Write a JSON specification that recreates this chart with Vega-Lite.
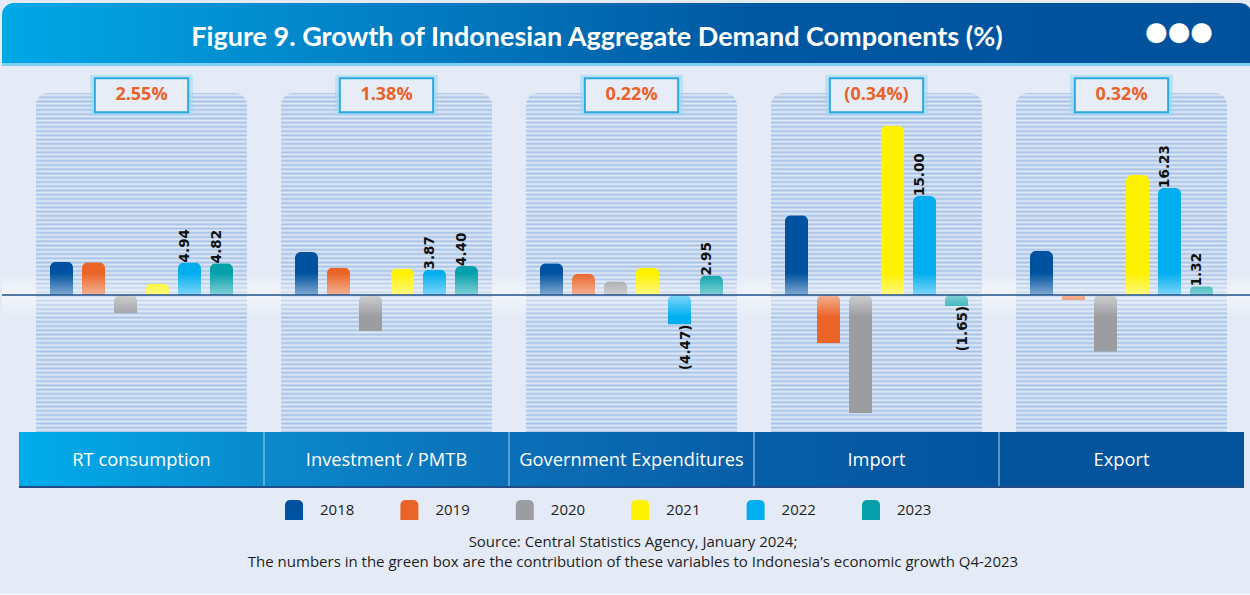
{
  "$schema": "https://vega.github.io/schema/vega-lite/v6.json",
  "background": "#e5ebf6",
  "padding": {"top": 3, "left": 0, "right": 0, "bottom": 24},
  "autosize": {"type": "pad"},
  "bounds": "flush",
  "spacing": 0,
  "config": {"view": {"stroke": null}, "font": "Open Sans"},
  "title": {
    "text": "Source: Central Statistics Agency, January 2024;",
    "subtitle": "The numbers in the green box are the contribution of these variables to Indonesia’s economic growth Q4-2023",
    "orient": "bottom", "anchor": "middle", "offset": 3, "dx": 6,
    "font": "Open Sans", "fontSize": 15, "fontWeight": "normal", "color": "#1e1e1e",
    "subtitleFont": "Open Sans", "subtitleFontSize": 15, "subtitleColor": "#1e1e1e", "subtitlePadding": 5
  },
  "resolve": {"scale": {"x": "independent", "y": "independent"}},
  "datasets": {
    "bars": [
      {"category": "RT consumption", "year": "2018", "value": 5.05, "label": ""},
      {"category": "RT consumption", "year": "2019", "value": 4.98, "label": ""},
      {"category": "RT consumption", "year": "2020", "value": -2.75, "label": ""},
      {"category": "RT consumption", "year": "2021", "value": 1.75, "label": ""},
      {"category": "RT consumption", "year": "2022", "value": 4.94, "label": "4.94"},
      {"category": "RT consumption", "year": "2023", "value": 4.82, "label": "4.82"},
      {"category": "Investment / PMTB", "year": "2018", "value": 6.5, "label": ""},
      {"category": "Investment / PMTB", "year": "2019", "value": 4.15, "label": ""},
      {"category": "Investment / PMTB", "year": "2020", "value": -5.45, "label": ""},
      {"category": "Investment / PMTB", "year": "2021", "value": 4.0, "label": ""},
      {"category": "Investment / PMTB", "year": "2022", "value": 3.87, "label": "3.87"},
      {"category": "Investment / PMTB", "year": "2023", "value": 4.40, "label": "4.40"},
      {"category": "Government Expenditures", "year": "2018", "value": 4.8, "label": ""},
      {"category": "Government Expenditures", "year": "2019", "value": 3.2, "label": ""},
      {"category": "Government Expenditures", "year": "2020", "value": 2.1, "label": ""},
      {"category": "Government Expenditures", "year": "2021", "value": 4.15, "label": ""},
      {"category": "Government Expenditures", "year": "2022", "value": -4.47, "label": "(4.47)"},
      {"category": "Government Expenditures", "year": "2023", "value": 2.95, "label": "2.95"},
      {"category": "Import", "year": "2018", "value": 12.1, "label": ""},
      {"category": "Import", "year": "2019", "value": -7.3, "label": ""},
      {"category": "Import", "year": "2020", "value": -17.9, "label": ""},
      {"category": "Import", "year": "2021", "value": 25.7, "label": ""},
      {"category": "Import", "year": "2022", "value": 15.00, "label": "15.00"},
      {"category": "Import", "year": "2023", "value": -1.65, "label": "(1.65)"},
      {"category": "Export", "year": "2018", "value": 6.65, "label": ""},
      {"category": "Export", "year": "2019", "value": -0.75, "label": ""},
      {"category": "Export", "year": "2020", "value": -8.6, "label": ""},
      {"category": "Export", "year": "2021", "value": 18.2, "label": ""},
      {"category": "Export", "year": "2022", "value": 16.23, "label": "16.23"},
      {"category": "Export", "year": "2023", "value": 1.32, "label": "1.32"}
    ],
    "panels": [
      {"category": "RT consumption", "contribution": "2.55%"},
      {"category": "Investment / PMTB", "contribution": "1.38%"},
      {"category": "Government Expenditures", "contribution": "0.22%"},
      {"category": "Import", "contribution": "(0.34%)"},
      {"category": "Export", "contribution": "0.32%"}
    ]
  },
  "vconcat": [
    {
      "width": 1250, "height": 60,
      "data": {"values": [{"title": "Figure 9. Growth of Indonesian Aggregate Demand Components (%)", "dots": "●●●"}]},
      "layer": [
        {
          "mark": {"type": "rect", "cornerRadiusTopLeft": 12, "cornerRadiusTopRight": 12,
            "fill": {"gradient": "linear", "x1": 0, "y1": 0, "x2": 1, "y2": 0,
              "stops": [{"offset": 0, "color": "#00a8e6"}, {"offset": 0.3, "color": "#0380c5"}, {"offset": 0.6, "color": "#0058a2"}, {"offset": 1, "color": "#00519c"}]}},
          "encoding": {}
        },
        {
          "mark": {"type": "text", "font": "Lato", "fontSize": 27, "fontWeight": "bold", "color": "white", "dx": -30, "dy": 5},
          "encoding": {"text": {"field": "title"}}
        },
        {
          "mark": {"type": "text", "font": "DejaVu Sans", "fontSize": 26, "color": "white", "dx": 552, "dy": -1},
          "encoding": {"text": {"field": "dots"}}
        }
      ]
    },
    {
      "width": 1250, "height": 369,
      "layer": [
        {
          "data": {"name": "panels"},
          "mark": {"type": "bar", "width": {"band": 0.861}, "cornerRadiusTopLeft": 12, "cornerRadiusTopRight": 12,
            "fill": {"gradient": "linear", "x1": 0, "y1": 0, "x2": 0, "y2": 1, "stops": [
              {"offset": 0, "color": "#a6c2e7"}, {"offset": 0.00625, "color": "#e2eaf6"}, {"offset": 0.0125, "color": "#a6c2e7"}, {"offset": 0.01875, "color": "#e2eaf6"}, {"offset": 0.025, "color": "#a6c2e7"}, {"offset": 0.03125, "color": "#e2eaf6"}, {"offset": 0.0375, "color": "#a6c2e7"}, {"offset": 0.04375, "color": "#e2eaf6"},
              {"offset": 0.05, "color": "#a6c2e7"}, {"offset": 0.05625, "color": "#e2eaf6"}, {"offset": 0.0625, "color": "#a6c2e7"}, {"offset": 0.06875, "color": "#e2eaf6"}, {"offset": 0.075, "color": "#a6c2e7"}, {"offset": 0.08125, "color": "#e2eaf6"}, {"offset": 0.0875, "color": "#a6c2e7"}, {"offset": 0.09375, "color": "#e2eaf6"},
              {"offset": 0.1, "color": "#a6c2e7"}, {"offset": 0.10625, "color": "#e2eaf6"}, {"offset": 0.1125, "color": "#a6c2e7"}, {"offset": 0.11875, "color": "#e2eaf6"}, {"offset": 0.125, "color": "#a6c2e7"}, {"offset": 0.13125, "color": "#e2eaf6"}, {"offset": 0.1375, "color": "#a6c2e7"}, {"offset": 0.14375, "color": "#e2eaf6"},
              {"offset": 0.15, "color": "#a6c2e7"}, {"offset": 0.15625, "color": "#e2eaf6"}, {"offset": 0.1625, "color": "#a6c2e7"}, {"offset": 0.16875, "color": "#e2eaf6"}, {"offset": 0.175, "color": "#a6c2e7"}, {"offset": 0.18125, "color": "#e2eaf6"}, {"offset": 0.1875, "color": "#a6c2e7"}, {"offset": 0.19375, "color": "#e2eaf6"},
              {"offset": 0.2, "color": "#a6c2e7"}, {"offset": 0.20625, "color": "#e2eaf6"}, {"offset": 0.2125, "color": "#a6c2e7"}, {"offset": 0.21875, "color": "#e2eaf6"}, {"offset": 0.225, "color": "#a6c2e7"}, {"offset": 0.23125, "color": "#e2eaf6"}, {"offset": 0.2375, "color": "#a6c2e7"}, {"offset": 0.24375, "color": "#e2eaf6"},
              {"offset": 0.25, "color": "#a6c2e7"}, {"offset": 0.25625, "color": "#e2eaf6"}, {"offset": 0.2625, "color": "#a6c2e7"}, {"offset": 0.26875, "color": "#e2eaf6"}, {"offset": 0.275, "color": "#a6c2e7"}, {"offset": 0.28125, "color": "#e2eaf6"}, {"offset": 0.2875, "color": "#a6c2e7"}, {"offset": 0.29375, "color": "#e2eaf6"},
              {"offset": 0.3, "color": "#a6c2e7"}, {"offset": 0.30625, "color": "#e2eaf6"}, {"offset": 0.3125, "color": "#a6c2e7"}, {"offset": 0.31875, "color": "#e2eaf6"}, {"offset": 0.325, "color": "#a6c2e7"}, {"offset": 0.33125, "color": "#e2eaf6"}, {"offset": 0.3375, "color": "#a6c2e7"}, {"offset": 0.34375, "color": "#e2eaf6"},
              {"offset": 0.35, "color": "#a6c2e7"}, {"offset": 0.35625, "color": "#e2eaf6"}, {"offset": 0.3625, "color": "#a6c2e7"}, {"offset": 0.36875, "color": "#e2eaf6"}, {"offset": 0.375, "color": "#a6c2e7"}, {"offset": 0.38125, "color": "#e2eaf6"}, {"offset": 0.3875, "color": "#a6c2e7"}, {"offset": 0.39375, "color": "#e2eaf6"},
              {"offset": 0.4, "color": "#a6c2e7"}, {"offset": 0.40625, "color": "#e2eaf6"}, {"offset": 0.4125, "color": "#a6c2e7"}, {"offset": 0.41875, "color": "#e2eaf6"}, {"offset": 0.425, "color": "#a6c2e7"}, {"offset": 0.43125, "color": "#e2eaf6"}, {"offset": 0.4375, "color": "#a6c2e7"}, {"offset": 0.44375, "color": "#e2eaf6"},
              {"offset": 0.45, "color": "#a6c2e7"}, {"offset": 0.45625, "color": "#e2eaf6"}, {"offset": 0.4625, "color": "#a6c2e7"}, {"offset": 0.46875, "color": "#e2eaf6"}, {"offset": 0.475, "color": "#a6c2e7"}, {"offset": 0.48125, "color": "#e2eaf6"}, {"offset": 0.4875, "color": "#a6c2e7"}, {"offset": 0.49375, "color": "#e2eaf6"},
              {"offset": 0.5, "color": "#a6c2e7"}, {"offset": 0.50625, "color": "#e2eaf6"}, {"offset": 0.5125, "color": "#a6c2e7"}, {"offset": 0.51875, "color": "#e2eaf6"}, {"offset": 0.525, "color": "#a6c2e7"}, {"offset": 0.53125, "color": "#e2eaf6"}, {"offset": 0.5375, "color": "#a6c2e7"}, {"offset": 0.54375, "color": "#e2eaf6"},
              {"offset": 0.55, "color": "#a6c2e7"}, {"offset": 0.55625, "color": "#e2eaf6"}, {"offset": 0.5625, "color": "#a6c2e7"}, {"offset": 0.56875, "color": "#e2eaf6"}, {"offset": 0.575, "color": "#a6c2e7"}, {"offset": 0.58125, "color": "#e2eaf6"}, {"offset": 0.5875, "color": "#a6c2e7"}, {"offset": 0.59375, "color": "#e2eaf6"},
              {"offset": 0.6, "color": "#a6c2e7"}, {"offset": 0.60625, "color": "#e2eaf6"}, {"offset": 0.6125, "color": "#a6c2e7"}, {"offset": 0.61875, "color": "#e2eaf6"}, {"offset": 0.625, "color": "#a6c2e7"}, {"offset": 0.63125, "color": "#e2eaf6"}, {"offset": 0.6375, "color": "#a6c2e7"}, {"offset": 0.64375, "color": "#e2eaf6"},
              {"offset": 0.65, "color": "#a6c2e7"}, {"offset": 0.65625, "color": "#e2eaf6"}, {"offset": 0.6625, "color": "#a6c2e7"}, {"offset": 0.66875, "color": "#e2eaf6"}, {"offset": 0.675, "color": "#a6c2e7"}, {"offset": 0.68125, "color": "#e2eaf6"}, {"offset": 0.6875, "color": "#a6c2e7"}, {"offset": 0.69375, "color": "#e2eaf6"},
              {"offset": 0.7, "color": "#a6c2e7"}, {"offset": 0.70625, "color": "#e2eaf6"}, {"offset": 0.7125, "color": "#a6c2e7"}, {"offset": 0.71875, "color": "#e2eaf6"}, {"offset": 0.725, "color": "#a6c2e7"}, {"offset": 0.73125, "color": "#e2eaf6"}, {"offset": 0.7375, "color": "#a6c2e7"}, {"offset": 0.74375, "color": "#e2eaf6"},
              {"offset": 0.75, "color": "#a6c2e7"}, {"offset": 0.75625, "color": "#e2eaf6"}, {"offset": 0.7625, "color": "#a6c2e7"}, {"offset": 0.76875, "color": "#e2eaf6"}, {"offset": 0.775, "color": "#a6c2e7"}, {"offset": 0.78125, "color": "#e2eaf6"}, {"offset": 0.7875, "color": "#a6c2e7"}, {"offset": 0.79375, "color": "#e2eaf6"},
              {"offset": 0.8, "color": "#a6c2e7"}, {"offset": 0.80625, "color": "#e2eaf6"}, {"offset": 0.8125, "color": "#a6c2e7"}, {"offset": 0.81875, "color": "#e2eaf6"}, {"offset": 0.825, "color": "#a6c2e7"}, {"offset": 0.83125, "color": "#e2eaf6"}, {"offset": 0.8375, "color": "#a6c2e7"}, {"offset": 0.84375, "color": "#e2eaf6"},
              {"offset": 0.85, "color": "#a6c2e7"}, {"offset": 0.85625, "color": "#e2eaf6"}, {"offset": 0.8625, "color": "#a6c2e7"}, {"offset": 0.86875, "color": "#e2eaf6"}, {"offset": 0.875, "color": "#a6c2e7"}, {"offset": 0.88125, "color": "#e2eaf6"}, {"offset": 0.8875, "color": "#a6c2e7"}, {"offset": 0.89375, "color": "#e2eaf6"},
              {"offset": 0.9, "color": "#a6c2e7"}, {"offset": 0.90625, "color": "#e2eaf6"}, {"offset": 0.9125, "color": "#a6c2e7"}, {"offset": 0.91875, "color": "#e2eaf6"}, {"offset": 0.925, "color": "#a6c2e7"}, {"offset": 0.93125, "color": "#e2eaf6"}, {"offset": 0.9375, "color": "#a6c2e7"}, {"offset": 0.94375, "color": "#e2eaf6"},
              {"offset": 0.95, "color": "#a6c2e7"}, {"offset": 0.95625, "color": "#e2eaf6"}, {"offset": 0.9625, "color": "#a6c2e7"}, {"offset": 0.96875, "color": "#e2eaf6"}, {"offset": 0.975, "color": "#a6c2e7"}, {"offset": 0.98125, "color": "#e2eaf6"}, {"offset": 0.9875, "color": "#a6c2e7"}, {"offset": 0.99375, "color": "#e2eaf6"},
              {"offset": 1, "color": "#a6c2e7"}
            ]}},
          "encoding": {
            "x": {"field": "category", "type": "nominal", "axis": null,
              "scale": {"domain": ["RT consumption", "Investment / PMTB", "Government Expenditures", "Import", "Export"], "range": [17, 1242], "paddingInner": 0, "paddingOuter": 0}},
            "y": {"datum": 30.606, "type": "quantitative", "axis": null, "scale": {"domain": [-20.758, 35.152], "nice": false, "zero": false}},
            "y2": {"datum": -20.758}
          }
        },
        {
          "data": {"name": "bars"},
          "mark": {"type": "bar", "cornerRadiusEnd": 6},
          "encoding": {
            "x": {"field": "category", "type": "nominal", "axis": null},
            "xOffset": {"field": "year", "type": "nominal", "scale": {"paddingInner": 0.28, "paddingOuter": 0.968}},
            "y": {"field": "value", "type": "quantitative", "axis": null},
            "color": {"field": "year", "type": "nominal", "legend": null,
              "scale": {"domain": ["2018", "2019", "2020", "2021", "2022", "2023"], "range": ["#0052a0", "#ea6428", "#9c9da1", "#fff200", "#00aeef", "#05a0ab"]}}
          }
        },
        {
          "data": {"values": [{}]},
          "mark": {"type": "rect",
            "fill": {"gradient": "linear", "x1": 0, "y1": 0, "x2": 0, "y2": 1,
              "stops": [{"offset": 0, "color": "rgba(255,255,255,0)"}, {"offset": 0.5, "color": "rgba(255,255,255,0.5)"}, {"offset": 1, "color": "rgba(255,255,255,0)"}]}},
          "encoding": {"y": {"datum": 3.3}, "y2": {"datum": -3.3}}
        },
        {
          "data": {"values": [{}]},
          "mark": {"type": "rule", "color": "#1d4f8c", "strokeWidth": 1.5},
          "encoding": {"y": {"datum": 0}}
        },
        {
          "data": {"values": [{}]},
          "mark": {"type": "rule", "color": "#7fcdf0", "strokeWidth": 3},
          "encoding": {"y": {"datum": 34.92}}
        },
        {
          "data": {"name": "panels"},
          "mark": {"type": "bar", "width": {"band": 0.395}, "fill": "#e5ebf6", "stroke": "#9ad8f5", "strokeWidth": 6, "strokeOpacity": 0.55},
          "encoding": {
            "x": {"field": "category", "type": "nominal", "axis": null},
            "y": {"datum": 32.9}, "y2": {"datum": 27.6}
          }
        },
        {
          "data": {"name": "panels"},
          "mark": {"type": "bar", "width": {"band": 0.381}, "fill": "#e7edf7", "stroke": "#2aa8e0", "strokeWidth": 2},
          "encoding": {
            "x": {"field": "category", "type": "nominal", "axis": null},
            "y": {"datum": 32.83}, "y2": {"datum": 27.68}
          }
        },
        {
          "data": {"name": "panels"},
          "mark": {"type": "text", "font": "Open Sans", "fontSize": 18, "fontWeight": "bold", "color": "#e9622a"},
          "encoding": {
            "x": {"field": "category", "type": "nominal", "axis": null},
            "y": {"datum": 30.25},
            "text": {"field": "contribution"}
          }
        },
        {
          "data": {"name": "bars"},
          "transform": [{"filter": "datum.label != '' && datum.value >= 0"}],
          "mark": {"type": "text", "angle": 270, "align": "left", "baseline": "middle", "dy": -5, "font": "DejaVu Sans", "fontSize": 13.5, "fontWeight": "bold", "color": "#111111"},
          "encoding": {
            "x": {"field": "category", "type": "nominal", "axis": null},
            "xOffset": {"field": "year", "type": "nominal"},
            "y": {"field": "value", "type": "quantitative"},
            "text": {"field": "label"}
          }
        },
        {
          "data": {"name": "bars"},
          "transform": [{"filter": "datum.label != '' && datum.value < 0"}],
          "mark": {"type": "text", "angle": 270, "align": "right", "baseline": "middle", "dy": 6, "font": "DejaVu Sans", "fontSize": 13.5, "fontWeight": "bold", "color": "#111111"},
          "encoding": {
            "x": {"field": "category", "type": "nominal", "axis": null},
            "xOffset": {"field": "year", "type": "nominal"},
            "y": {"field": "value", "type": "quantitative"},
            "text": {"field": "label"}
          }
        }
      ]
    },
    {
      "width": 1250, "height": 56,
      "data": {"name": "panels"},
      "layer": [
        {
          "transform": [{"filter": "datum.category == 'RT consumption'"}],
          "mark": {"type": "bar", "fill": {"gradient": "linear", "x1": 0, "y1": 0, "x2": 1, "y2": 0, "stops": [{"offset": 0, "color": "#00adec"}, {"offset": 1, "color": "#0a89cb"}]}},
          "encoding": {
            "x": {"field": "category", "type": "nominal", "axis": null,
              "scale": {"domain": ["RT consumption", "Investment / PMTB", "Government Expenditures", "Import", "Export"], "range": [17, 1242], "paddingInner": 0, "paddingOuter": 0}},
            "y": {"datum": 1, "type": "quantitative", "axis": null, "scale": {"domain": [0, 1], "nice": false}},
            "y2": {"datum": 0.036}
          }
        },
        {
          "transform": [{"filter": "datum.category == 'Investment / PMTB'"}],
          "mark": {"type": "bar", "fill": {"gradient": "linear", "x1": 0, "y1": 0, "x2": 1, "y2": 0, "stops": [{"offset": 0, "color": "#0a89cb"}, {"offset": 1, "color": "#0b6fb7"}]}},
          "encoding": {"x": {"field": "category", "type": "nominal", "axis": null}, "y": {"datum": 1}, "y2": {"datum": 0.036}}
        },
        {
          "transform": [{"filter": "datum.category == 'Government Expenditures'"}],
          "mark": {"type": "bar", "fill": {"gradient": "linear", "x1": 0, "y1": 0, "x2": 1, "y2": 0, "stops": [{"offset": 0, "color": "#0b6fb7"}, {"offset": 1, "color": "#075ea8"}]}},
          "encoding": {"x": {"field": "category", "type": "nominal", "axis": null}, "y": {"datum": 1}, "y2": {"datum": 0.036}}
        },
        {
          "transform": [{"filter": "datum.category == 'Import'"}],
          "mark": {"type": "bar", "fill": {"gradient": "linear", "x1": 0, "y1": 0, "x2": 1, "y2": 0, "stops": [{"offset": 0, "color": "#075ea8"}, {"offset": 1, "color": "#03549e"}]}},
          "encoding": {"x": {"field": "category", "type": "nominal", "axis": null}, "y": {"datum": 1}, "y2": {"datum": 0.036}}
        },
        {
          "transform": [{"filter": "datum.category == 'Export'"}],
          "mark": {"type": "bar", "fill": "#03539d"},
          "encoding": {"x": {"field": "category", "type": "nominal", "axis": null}, "y": {"datum": 1}, "y2": {"datum": 0.036}}
        },
        {
          "mark": {"type": "bar", "fill": "#244c87"},
          "encoding": {"x": {"field": "category", "type": "nominal", "axis": null}, "y": {"datum": 0.036}, "y2": {"datum": 0}}
        },
        {
          "transform": [{"filter": "datum.category != 'RT consumption'"}],
          "mark": {"type": "rule", "color": "#8cc4ea", "strokeWidth": 1.2},
          "encoding": {"x": {"field": "category", "type": "nominal", "bandPosition": 0, "axis": null}, "y": {"datum": 1}, "y2": {"datum": 0.036}}
        },
        {
          "mark": {"type": "text", "font": "Open Sans", "fontSize": 18.3, "color": "white"},
          "encoding": {"x": {"field": "category", "type": "nominal", "axis": null}, "y": {"datum": 0.49}, "text": {"field": "category"}}
        }
      ]
    },
    {
      "width": 1250, "height": 44,
      "data": {"name": "bars"},
      "transform": [{"filter": "datum.category == 'RT consumption'"}],
      "layer": [
        {
          "mark": {"type": "point", "filled": true, "opacity": 1, "size": 400, "strokeWidth": 0,
            "shape": "M-0.9,1L-0.9,-0.45Q-0.9,-1,-0.35,-1L0.35,-1Q0.9,-1,0.9,-0.45L0.9,1Z"},
          "encoding": {
            "x": {"field": "year", "type": "nominal", "axis": null, "scale": {"type": "point", "range": [292, 869], "padding": 0}},
            "color": {"field": "year", "type": "nominal", "legend": null,
              "scale": {"domain": ["2018", "2019", "2020", "2021", "2022", "2023"], "range": ["#0052a0", "#ea6428", "#9c9da1", "#fff200", "#00aeef", "#05a0ab"]}}
          }
        },
        {
          "mark": {"type": "text", "align": "left", "baseline": "middle", "dx": 26, "font": "Open Sans", "fontSize": 15, "color": "#1e1e1e"},
          "encoding": {
            "x": {"field": "year", "type": "nominal", "axis": null},
            "text": {"field": "year"}
          }
        }
      ]
    }
  ]
}
